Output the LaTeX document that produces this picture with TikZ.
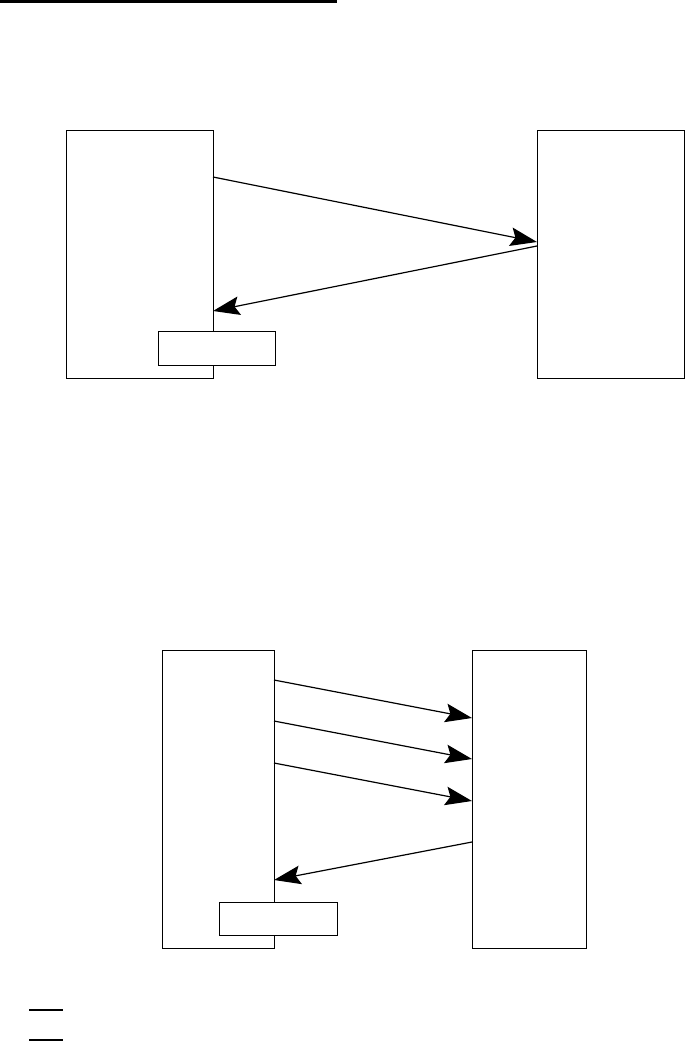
\documentclass[tikz,border=0pt]{standalone}
\usepackage{xcolor}
\usepackage{tikz}
\usetikzlibrary{positioning,arrows.meta,calc}

\tikzset{
    host/.style={draw, line width=1pt, fill=white, inner sep=0pt, anchor=north west},
    tag/.style={draw, line width=1pt, fill=white, inner sep=0pt, anchor=north west},
    msg/.style={line width=0.9pt, -{Stealth[length=20pt, width=14pt, inset=3.5pt, fill=black]}}
}

\begin{document}
\begin{tikzpicture}[x=0.75pt, y=-0.75pt]
    \useasboundingbox (0,0) rectangle (685,1042);

    % header rule
    \draw[line width=1.5pt] (0,1.5) -- (337,1.5);

    % first exchange
    \node[host, minimum width=110.25pt, minimum height=186pt] (clientA) at (66,130) {};
    \node[host, minimum width=110.25pt, minimum height=186pt] (serverA) at (537,130) {};
    \coordinate (reqA) at (213,177);
    \coordinate (inA) at (537,242);
    \coordinate (outA) at (537,246);
    \coordinate (ackA) at (213,311);
    \draw[msg] (reqA) -- (inA);
    \draw[msg] (outA) -- (ackA);
    \node[tag, minimum width=87.75pt, minimum height=25.5pt] (timerA) at (158,331) {};

    % second exchange
    \node[host, minimum width=84pt, minimum height=223.5pt] (clientB) at (162,650) {};
    \node[host, minimum width=85.5pt, minimum height=223.5pt] (serverB) at (472,650) {};
    \foreach \i/\y in {1/680, 2/721, 3/763} {
        \coordinate (req\i) at (274,\y);
        \coordinate (in\i) at (472,\y+38);
        \draw[msg] (req\i) -- (in\i);
    }
    \coordinate (outB) at (472,842);
    \coordinate (ackB) at (274,880);
    \draw[msg] (outB) -- (ackB);
    \node[tag, minimum width=88.5pt, minimum height=24.75pt] (timerB) at (219,902) {};

    % key marks
    \foreach \y in {1010, 1040}
        \draw[line width=2pt] (29,\y) -- (63,\y);
\end{tikzpicture}
\end{document}
